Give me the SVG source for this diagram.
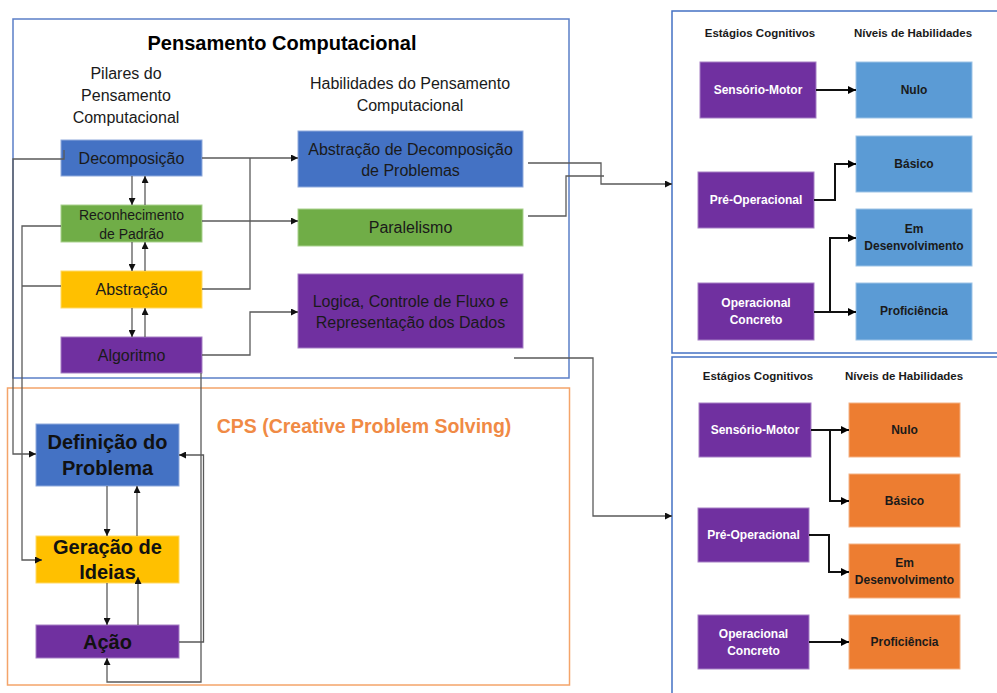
<svg xmlns="http://www.w3.org/2000/svg" width="997" height="693" viewBox="0 0 997 693">
<defs>
<marker id="ah" viewBox="0 0 10 10" refX="10" refY="5" markerWidth="7" markerHeight="7" markerUnits="userSpaceOnUse" orient="auto"><path d="M0,0 L10,5 L0,10 z" fill="#111"/></marker>
<marker id="ahb" viewBox="0 0 10 10" refX="10" refY="5" markerWidth="8" markerHeight="8" markerUnits="userSpaceOnUse" orient="auto"><path d="M0,0 L10,5 L0,10 z" fill="#000"/></marker>
</defs>
<style>
text{font-family:"Liberation Sans",Arial,sans-serif;text-anchor:middle;dominant-baseline:central;fill:#1a1a1a}
.blue{fill:#4472C4;stroke:#8FAADC;stroke-width:1}
.green{fill:#70AD47;stroke:#A9D18E;stroke-width:1}
.gold{fill:#FFC000;stroke:#FFD966;stroke-width:1}
.purple{fill:#7030A0;stroke:#A57FC4;stroke-width:1}
.lblue{fill:#5B9BD5;stroke:#9DC3E6;stroke-width:1}
.orange{fill:#ED7D31;stroke:#F4B183;stroke-width:1}
.p{font-size:16px}
.ps{font-size:14px}
.cps{font-size:20px;font-weight:bold;fill:#111}
.r{font-size:12px;font-weight:bold}
.rw{font-size:12px;font-weight:bold;fill:#fff}
.hdr{font-size:11.5px;font-weight:bold}
.c{fill:none;stroke:#5a5a5a;stroke-width:1.3}
.cb{fill:none;stroke:#111;stroke-width:2}
.frame{fill:none;stroke:#4472C4;stroke-width:1.5}
</style>

<g id="frames">
<rect x="13" y="19" width="556" height="359" fill="#fff" stroke="#5B7FC7" stroke-width="1.5"/>
<rect x="7.5" y="388" width="562" height="297" fill="none" stroke="#F4A46A" stroke-width="1.5"/>
<rect x="672" y="11" width="340" height="342" class="frame"/>
<rect x="672" y="357" width="340" height="350" class="frame"/>
</g>

<g id="titles">
<text x="282" y="43" style="font-size:20px;font-weight:bold;fill:#000">Pensamento Computacional</text>
<text x="126" y="73" class="p">Pilares do</text>
<text x="126" y="95" class="p">Pensamento</text>
<text x="126" y="117" class="p">Computacional</text>
<text x="410" y="83" class="p">Habilidades do Pensamento</text>
<text x="410" y="105" class="p">Computacional</text>
<text x="364" y="426" style="font-size:19.5px;font-weight:bold;fill:#F08A45">CPS (Creative Problem Solving)</text>
</g>

<g id="decomposicao"><rect x="61" y="140" width="141" height="36" class="blue"/><text x="131.5" y="158" class="p">Decomposição</text></g>
<g id="reconhecimento"><rect x="61" y="205" width="141" height="37" class="green"/><text x="131.5" y="215" class="ps">Reconhecimento</text><text x="131.5" y="234" class="ps">de Padrão</text></g>
<g id="abstracao"><rect x="61" y="271" width="141" height="37" class="gold"/><text x="131.5" y="289" class="p">Abstração</text></g>
<g id="algoritmo"><rect x="61" y="337" width="141" height="36" class="purple"/><text x="131.5" y="355" class="p">Algoritmo</text></g>

<g id="abstracao-decomposicao"><rect x="298" y="131" width="225" height="56" class="blue"/><text x="410.5" y="149" class="p">Abstração de Decomposição</text><text x="410.5" y="170" class="p">de Problemas</text></g>
<g id="paralelismo"><rect x="298" y="209" width="225" height="37" class="green"/><text x="410.5" y="227" class="p">Paralelismo</text></g>
<g id="logica"><rect x="298" y="274" width="225" height="74" class="purple"/><text x="410.5" y="301" class="p">Logica, Controle de Fluxo e</text><text x="410.5" y="322" class="p">Representação dos Dados</text></g>

<g id="definicao"><rect x="36" y="424" width="143" height="62" class="blue"/><text x="107.5" y="442" class="cps">Definição do</text><text x="107.5" y="468" class="cps">Problema</text></g>
<g id="geracao"><rect x="36" y="536" width="143" height="47" class="gold"/><text x="107.5" y="547" class="cps">Geração de</text><text x="107.5" y="572" class="cps">Ideias</text></g>
<g id="acao"><rect x="36" y="625" width="143" height="33" class="purple"/><text x="107.5" y="642" class="cps">Ação</text></g>

<g id="panel-top">
<text x="760" y="33" class="hdr">Estágios Cognitivos</text>
<text x="913" y="33" class="hdr">Níveis de Habilidades</text>
</g>
<g id="t-sensorio"><rect x="700" y="62" width="116" height="56" class="purple"/><text x="758" y="90" class="rw">Sensório-Motor</text></g>
<g id="t-preop"><rect x="698" y="172" width="116" height="56" class="purple"/><text x="756" y="200" class="rw">Pré-Operacional</text></g>
<g id="t-opconc"><rect x="698" y="283" width="116" height="57" class="purple"/><text x="756" y="303" class="rw">Operacional</text><text x="756" y="320" class="rw">Concreto</text></g>
<g id="t-nulo"><rect x="856" y="62" width="116" height="56" class="lblue"/><text x="914" y="90" class="r">Nulo</text></g>
<g id="t-basico"><rect x="856" y="136" width="116" height="56" class="lblue"/><text x="914" y="164" class="r">Básico</text></g>
<g id="t-emdes"><rect x="856" y="209" width="116" height="57" class="lblue"/><text x="914" y="229" class="r">Em</text><text x="914" y="246" class="r">Desenvolvimento</text></g>
<g id="t-prof"><rect x="856" y="283" width="116" height="57" class="lblue"/><text x="914" y="311" class="r">Proficiência</text></g>

<g id="panel-bottom">
<text x="758" y="376" class="hdr">Estágios Cognitivos</text>
<text x="904" y="376" class="hdr">Níveis de Habilidades</text>
</g>
<g id="b-sensorio"><rect x="699" y="403" width="112" height="54" class="purple"/><text x="755" y="430" class="rw">Sensório-Motor</text></g>
<g id="b-preop"><rect x="698" y="508" width="111" height="54" class="purple"/><text x="753.5" y="535" class="rw">Pré-Operacional</text></g>
<g id="b-opconc"><rect x="698" y="615" width="111" height="54" class="purple"/><text x="753.5" y="634" class="rw">Operacional</text><text x="753.5" y="651" class="rw">Concreto</text></g>
<g id="b-nulo"><rect x="849" y="403" width="111" height="54" class="orange"/><text x="904.5" y="430" class="r">Nulo</text></g>
<g id="b-basico"><rect x="849" y="474" width="111" height="53" class="orange"/><text x="904.5" y="501" class="r">Básico</text></g>
<g id="b-emdes"><rect x="849" y="544" width="111" height="54" class="orange"/><text x="904.5" y="563" class="r">Em</text><text x="904.5" y="580" class="r">Desenvolvimento</text></g>
<g id="b-prof"><rect x="849" y="615" width="111" height="54" class="orange"/><text x="904.5" y="642" class="r">Proficiência</text></g>

<g id="connectors">
<path class="c" d="M132,176 V205" marker-end="url(#ah)"/>
<path class="c" d="M145,205 V176" marker-end="url(#ah)"/>
<path class="c" d="M132,242 V271" marker-end="url(#ah)"/>
<path class="c" d="M145,271 V242" marker-end="url(#ah)"/>
<path class="c" d="M132,308 V337" marker-end="url(#ah)"/>
<path class="c" d="M145,337 V308" marker-end="url(#ah)"/>
<path class="c" d="M202,158 H298" marker-end="url(#ah)"/>
<path class="c" d="M202,289 H250 V158"/>
<path class="c" d="M202,221 H298" marker-end="url(#ah)"/>
<path class="c" d="M202,355 H250 V312 H298" marker-end="url(#ah)"/>
<path class="c" d="M64,150 V159 H13 V454 H36" marker-end="url(#ah)"/>
<path class="c" d="M61,226 H22 V560 H42" marker-end="url(#ah)"/>
<path class="c" d="M61,286 H22"/>
<path class="c" d="M201,373 V682 H107 V658" marker-end="url(#ah)"/>
<path class="c" d="M179,642 H203.5 V455 H179" marker-end="url(#ah)"/>
<path class="c" d="M107,486 V536" marker-end="url(#ah)"/>
<path class="c" d="M137,536 V486" marker-end="url(#ah)"/>
<path class="c" d="M107,583 V625" marker-end="url(#ah)"/>
<path class="c" d="M138,625 V577" marker-end="url(#ah)"/>
<path class="c" d="M528,163 H601 V184 H672" marker-end="url(#ah)"/>
<path class="c" d="M528,216 H566 V176 H604"/>
<path class="c" d="M514,358 H593 V516 H672" marker-end="url(#ah)"/>
<path class="cb" d="M816,90 H856" marker-end="url(#ahb)"/>
<path class="cb" d="M814,200 H835 V164 H856" marker-end="url(#ahb)"/>
<path class="cb" d="M814,312 H830 V238 H856" marker-end="url(#ahb)"/>
<path class="cb" d="M830,312 H856" marker-end="url(#ahb)"/>
<path class="cb" d="M811,430 H849" marker-end="url(#ahb)"/>
<path class="cb" d="M830,430 V501 H849" marker-end="url(#ahb)"/>
<path class="cb" d="M809,535 H829 V572 H849" marker-end="url(#ahb)"/>
<path class="cb" d="M809,642 H849" marker-end="url(#ahb)"/>
</g>
</svg>
